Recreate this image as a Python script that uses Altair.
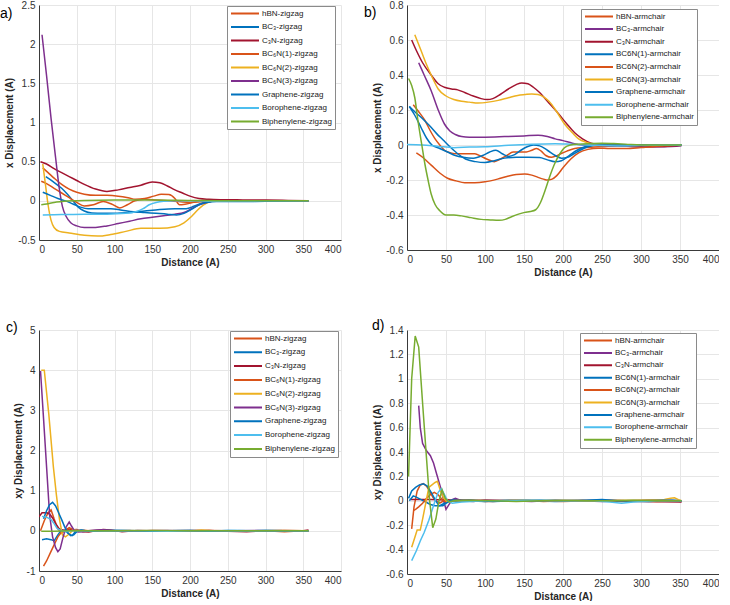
import altair as alt
import pandas as pd

# ---------------------------------------------------------------- series names
ZIG_NAMES = ["hBN-zigzag", "BC₃-zigzag", "C₃N-zigzag", "BC₆N(1)-zigzag", "BC₆N(2)-zigzag",
             "BC₆N(3)-zigzag", "Graphene-zigzag", "Borophene-zigzag", "Biphenylene-zigzag"]
ARM_NAMES = ["hBN-armchair", "BC₃-armchair", "C₃N-armchair", "BC6N(1)-armchair", "BC6N(2)-armchair",
             "BC6N(3)-armchair", "Graphene-armchair", "Borophene-armchair", "Biphenylene-armchair"]

ORANGE, BLUE, DARKRED, YELLOW = "#D95319", "#0072BD", "#A2142F", "#EDB120"
PURPLE, LIGHTBLUE, GREEN = "#7E2F8E", "#4DBEEE", "#77AC30"
ZIG_COLORS = [ORANGE, BLUE, DARKRED, ORANGE, YELLOW, PURPLE, BLUE, LIGHTBLUE, GREEN]
ARM_COLORS = [ORANGE, PURPLE, DARKRED, BLUE, ORANGE, YELLOW, BLUE, LIGHTBLUE, GREEN]

X_TICKS = [0, 50, 100, 150, 200, 250, 300, 350, 400]
A_TICKS = [-0.5, 0, 0.5, 1, 1.5, 2, 2.5]
B_TICKS = [-0.6, -0.4, -0.2, 0, 0.2, 0.4, 0.6, 0.8]
C_TICKS = [-1, 0, 1, 2, 3, 4, 5]
D_TICKS = [-0.6, -0.4, -0.2, 0, 0.2, 0.4, 0.6, 0.8, 1, 1.2, 1.4]

# ---------------------------------------------------------------- a) x displacement, zigzag
A_HBN_X = [5, 12, 20, 30, 40, 50, 60, 75, 90, 105, 118, 128, 140, 152, 162, 172, 180, 186, 195, 210, 230, 260, 300, 357]
A_HBN_Y = [0.42, 0.36, 0.29, 0.21, 0.15, 0.11, 0.085, 0.07, 0.07, 0.06, 0.04, 0.02, 0.03, 0.06, 0.085, 0.08, 0.03, -0.05, -0.04, -0.01, 0.0, 0.0, 0.0, 0.0]
A_BC3_X = [9, 15, 22, 30, 38, 45, 52, 60, 70, 85, 100, 120, 140, 160, 180, 195, 205, 215, 225, 240, 300, 357]
A_BC3_Y = [0.31, 0.27, 0.22, 0.16, 0.08, 0.0, -0.08, -0.13, -0.155, -0.16, -0.16, -0.15, -0.13, -0.11, -0.1, -0.1, -0.07, -0.03, -0.01, 0.0, -0.005, 0.0]
A_C3N_X = [2, 10, 20, 30, 40, 50, 60, 75, 90, 105, 120, 135, 150, 160, 170, 180, 190, 200, 212, 225, 240, 270, 300, 330, 357]
A_C3N_Y = [0.5, 0.47, 0.41, 0.36, 0.31, 0.26, 0.21, 0.15, 0.12, 0.14, 0.17, 0.2, 0.24, 0.23, 0.19, 0.14, 0.1, 0.06, 0.03, 0.02, 0.015, 0.012, 0.01, 0.005, 0.0]
A_BC6N1_X = [3, 10, 20, 30, 40, 50, 60, 72, 85, 96, 107, 117, 127, 140, 155, 170, 185, 200, 215, 240, 300, 357]
A_BC6N1_Y = [0.25, 0.22, 0.16, 0.1, 0.04, -0.02, -0.065, -0.05, -0.01, -0.04, -0.09, -0.05, 0.0, 0.02, 0.01, 0.0, -0.01, -0.02, -0.01, 0.0, 0.0, 0.0]
A_BC6N2_X = [5, 8, 12, 16, 20, 27, 40, 60, 78, 95, 115, 135, 160, 180, 192, 202, 212, 222, 235, 260, 300, 357]
A_BC6N2_Y = [0.47, 0.25, -0.05, -0.25, -0.34, -0.39, -0.41, -0.44, -0.45, -0.43, -0.39, -0.35, -0.35, -0.33, -0.28, -0.2, -0.1, -0.03, 0.0, 0.0, 0.0, 0.0]
A_BC6N3_X = [4, 10, 16, 22, 27, 31, 36, 42, 50, 60, 75, 90, 105, 120, 135, 150, 165, 180, 192, 202, 212, 222, 235, 260, 300, 357]
A_BC6N3_Y = [2.12, 1.6, 1.05, 0.55, 0.15, -0.07, -0.2, -0.28, -0.32, -0.34, -0.34, -0.32, -0.29, -0.26, -0.23, -0.21, -0.19, -0.17, -0.15, -0.1, -0.05, -0.02, 0.0, 0.0, 0.0, 0.0]
A_GRA_X = [5, 15, 25, 35, 45, 55, 65, 80, 95, 110, 125, 140, 155, 170, 182, 192, 202, 212, 222, 235, 260, 300, 357]
A_GRA_Y = [0.11, 0.07, 0.03, 0.0, -0.04, -0.08, -0.1, -0.1, -0.1, -0.12, -0.14, -0.15, -0.16, -0.17, -0.18, -0.16, -0.11, -0.05, -0.02, -0.01, -0.01, -0.005, 0.0]
A_BORO_X = [5, 30, 60, 90, 115, 128, 138, 146, 155, 165, 180, 200, 230, 300, 357]
A_BORO_Y = [-0.18, -0.175, -0.17, -0.17, -0.16, -0.14, -0.1, -0.05, -0.02, -0.005, 0.0, 0.0, -0.005, 0.0, 0.0]
A_BIPH_X = [3, 10, 20, 30, 45, 60, 100, 150, 200, 250, 300, 357]
A_BIPH_Y = [-0.05, -0.04, -0.02, -0.01, 0.0, 0.005, 0.01, 0.01, 0.005, 0.0, 0.0, 0.0]

# ---------------------------------------------------------------- b) x displacement, armchair
B_HBN_X = [8, 15, 23, 30, 36, 42, 48, 56, 65, 75, 87, 95, 102, 112, 120, 128, 136, 145, 153, 160, 166, 172, 178, 185, 190, 197, 205, 215, 228, 245, 270, 300, 330, 352]
B_HBN_Y = [0.23, 0.19, 0.14, 0.08, 0.035, 0.0, -0.03, -0.045, -0.05, -0.05, -0.05, -0.065, -0.08, -0.095, -0.08, -0.06, -0.04, -0.04, -0.04, -0.03, -0.02, -0.035, -0.06, -0.07, -0.065, -0.05, -0.035, -0.02, -0.015, -0.01, -0.005, 0.0, 0.0, 0.0]
B_BC3_X = [15, 22, 31, 40, 48, 55, 62, 70, 80, 100, 125, 150, 168, 180, 190, 200, 212, 225, 240, 270, 300, 330, 352]
B_BC3_Y = [0.47, 0.4, 0.31, 0.2, 0.12, 0.08, 0.06, 0.048, 0.045, 0.045, 0.048, 0.052, 0.056, 0.048, 0.035, 0.025, 0.01, 0.0, -0.002, -0.005, -0.01, -0.01, -0.005]
B_C3N_X = [6, 12, 20, 31, 40, 48, 57, 65, 74, 85, 95, 103, 110, 120, 130, 140, 147, 155, 162, 170, 180, 194, 205, 215, 225, 236, 250, 270, 300, 330, 352]
B_C3N_Y = [0.6, 0.54, 0.47, 0.4, 0.35, 0.33, 0.32, 0.315, 0.3, 0.28, 0.265, 0.26, 0.265, 0.29, 0.32, 0.345, 0.355, 0.35, 0.33, 0.3, 0.25, 0.18, 0.12, 0.07, 0.035, 0.01, 0.0, -0.005, -0.01, -0.008, -0.002]
B_BC6N1_X = [3, 10, 20, 29, 38, 46, 55, 65, 75, 88, 100, 112, 125, 140, 155, 170, 180, 190, 198, 208, 218, 228, 240, 260, 300, 352]
B_BC6N1_Y = [0.22, 0.19, 0.15, 0.11, 0.065, 0.03, -0.01, -0.05, -0.08, -0.095, -0.1, -0.09, -0.075, -0.07, -0.07, -0.072, -0.085, -0.095, -0.09, -0.06, -0.03, -0.01, 0.0, 0.0, 0.0, 0.0]
B_BC6N2_X = [12, 20, 31, 42, 52, 63, 74, 87, 100, 116, 128, 140, 151, 160, 168, 175, 180, 186, 192, 200, 210, 220, 232, 245, 260, 280, 300, 330, 352]
B_BC6N2_Y = [-0.045, -0.07, -0.115, -0.16, -0.19, -0.205, -0.215, -0.215, -0.21, -0.195, -0.18, -0.168, -0.165, -0.172, -0.185, -0.195, -0.2, -0.195, -0.175, -0.13, -0.08, -0.045, -0.025, -0.018, -0.02, -0.02, -0.015, -0.005, 0.0]
B_BC6N3_X = [10, 18, 25, 31, 40, 50, 60, 70, 80, 91, 104, 117, 130, 142, 151, 160, 168, 175, 182, 192, 202, 212, 220, 230, 240, 260, 300, 352]
B_BC6N3_Y = [0.63, 0.54, 0.46, 0.4, 0.32, 0.28, 0.26, 0.25, 0.245, 0.24, 0.245, 0.255, 0.27, 0.283, 0.288, 0.292, 0.288, 0.275, 0.25, 0.19, 0.12, 0.07, 0.035, 0.015, 0.005, 0.0, 0.0, 0.0]
B_GRA_X = [3, 10, 18, 25, 32, 42, 52, 62, 72, 85, 97, 106, 114, 122, 130, 138, 146, 154, 162, 170, 180, 190, 198, 206, 214, 222, 232, 245, 270, 300, 352]
B_GRA_Y = [0.22, 0.17, 0.1, 0.04, 0.0, -0.02, -0.04, -0.06, -0.07, -0.075, -0.06, -0.04, -0.03, -0.05, -0.065, -0.055, -0.03, -0.01, 0.0, -0.005, -0.03, -0.06, -0.075, -0.07, -0.05, -0.03, -0.01, 0.0, 0.0, 0.0, 0.0]
B_BORO_X = [0, 20, 40, 60, 80, 100, 130, 160, 190, 210, 240, 270, 300, 330, 352]
B_BORO_Y = [0.003, 0.0, -0.008, -0.015, -0.012, -0.01, -0.002, 0.004, 0.007, 0.004, -0.002, -0.005, -0.003, 0.0, 0.0]
B_BIPH_X = [2, 6, 10, 14, 19, 23, 27, 31, 36, 42, 50, 60, 70, 82, 95, 107, 118, 126, 134, 143, 151, 158, 165, 171, 177, 183, 189, 196, 202, 210, 220, 235, 250, 265, 280, 300, 330, 352]
B_BIPH_Y = [0.38, 0.34, 0.27, 0.14, 0.0, -0.11, -0.2, -0.28, -0.34, -0.375, -0.4, -0.4, -0.405, -0.415, -0.425, -0.428, -0.43, -0.425, -0.41, -0.395, -0.385, -0.38, -0.37, -0.33, -0.26, -0.18, -0.11, -0.05, -0.015, 0.0, 0.005, 0.008, 0.01, 0.008, 0.005, 0.0, 0.0, 0.0]

# ---------------------------------------------------------------- c) xy displacement, zigzag
C_HBN_X = [2, 7, 12, 16, 20, 25, 30, 35, 40, 45, 50, 60, 75, 90, 110, 130, 150, 175, 200, 225, 250, 275, 300, 325, 350, 357]
C_HBN_Y = [0.0, 0.25, 0.45, 0.52, 0.3, 0.05, -0.05, 0.0, 0.05, 0.02, 0.0, 0.01, -0.01, 0.01, 0.0, -0.01, 0.01, 0.0, -0.01, 0.01, 0.0, -0.01, 0.0, -0.02, 0.0, 0.0]
C_BC3_X = [4, 10, 16, 20, 25, 30, 35, 40, 44, 48, 55, 65, 80, 100, 125, 150, 175, 200, 225, 250, 275, 300, 325, 357]
C_BC3_Y = [-0.22, -0.2, -0.22, -0.25, -0.1, 0.03, 0.0, -0.08, -0.12, -0.02, 0.02, -0.01, 0.0, 0.01, 0.0, -0.01, 0.0, 0.01, 0.0, -0.01, 0.0, 0.01, 0.0, 0.0]
C_C3N_X = [0, 4, 10, 14, 18, 22, 26, 30, 36, 42, 50, 58, 66, 75, 85, 95, 110, 130, 150, 175, 200, 225, 250, 275, 300, 325, 350, 357]
C_C3N_Y = [0.35, 0.45, 0.45, 0.42, 0.32, 0.18, 0.07, 0.02, 0.0, 0.02, 0.03, -0.02, -0.03, 0.0, 0.03, 0.02, -0.02, 0.01, 0.0, -0.01, 0.0, 0.01, -0.01, -0.02, 0.0, 0.01, 0.0, 0.02]
C_BC6N1_X = [6, 10, 15, 20, 25, 30, 35, 40, 45, 50, 60, 75, 95, 120, 150, 180, 210, 240, 270, 300, 330, 357]
C_BC6N1_Y = [-0.88, -0.75, -0.55, -0.35, -0.15, -0.03, 0.02, 0.08, 0.03, 0.0, 0.01, -0.01, 0.0, 0.01, -0.01, 0.0, 0.01, -0.01, 0.0, -0.01, 0.0, 0.0]
C_BC6N2_X = [3, 7, 13, 19, 23, 27, 31, 35, 40, 45, 52, 60, 80, 110, 140, 170, 200, 215, 230, 260, 290, 320, 357]
C_BC6N2_Y = [4.0, 4.0, 2.9, 1.6, 0.9, 0.3, -0.1, -0.15, -0.08, 0.02, 0.01, 0.0, 0.01, -0.01, 0.0, 0.0, -0.01, 0.02, 0.0, -0.01, 0.0, 0.01, 0.0]
C_BC6N3_X = [2, 6, 10, 14, 18, 22, 25, 28, 32, 36, 40, 43, 47, 52, 58, 65, 75, 85, 100, 120, 140, 170, 200, 230, 260, 290, 320, 357]
C_BC6N3_Y = [3.98, 2.8, 1.6, 0.4, -0.15, -0.42, -0.52, -0.45, -0.15, 0.1, 0.22, 0.12, 0.0, -0.03, -0.02, 0.0, 0.02, 0.03, 0.0, -0.01, 0.0, 0.01, 0.0, -0.01, 0.0, 0.01, -0.01, 0.0]
C_GRA_X = [6, 10, 14, 18, 22, 26, 30, 34, 38, 42, 46, 50, 56, 62, 70, 85, 100, 125, 150, 175, 200, 225, 250, 275, 300, 325, 357]
C_GRA_Y = [0.3, 0.5, 0.65, 0.71, 0.62, 0.45, 0.28, 0.1, -0.05, -0.12, -0.1, -0.02, 0.02, 0.0, -0.01, 0.0, 0.01, 0.0, -0.01, 0.0, 0.01, -0.01, 0.01, 0.0, 0.01, 0.0, 0.0]
C_BORO_X = [4, 10, 16, 20, 24, 30, 36, 42, 50, 60, 80, 110, 140, 170, 200, 230, 260, 290, 320, 357]
C_BORO_Y = [0.36, 0.34, 0.28, 0.18, 0.06, 0.0, -0.02, 0.0, 0.01, 0.0, 0.0, 0.01, 0.0, -0.01, 0.0, 0.0, 0.01, 0.0, 0.0, 0.0]
C_BIPH_X = [3, 20, 40, 60, 100, 150, 200, 250, 300, 357]
C_BIPH_Y = [-0.01, -0.01, 0.0, 0.0, 0.0, 0.01, 0.0, 0.0, 0.0, 0.0]

# ---------------------------------------------------------------- d) xy displacement, armchair
D_HBN_X = [6, 9, 13, 17, 21, 25, 29, 33, 37, 42, 47, 52, 58, 65, 80, 100, 125, 150, 175, 200, 225, 250, 275, 300, 325, 352]
D_HBN_Y = [-0.23, -0.05, 0.08, 0.13, 0.14, 0.12, 0.08, 0.03, 0.0, -0.02, 0.0, 0.01, 0.0, 0.0, 0.005, -0.005, 0.0, 0.005, -0.005, 0.0, 0.005, 0.0, -0.005, 0.0, 0.005, 0.0]
D_BC3_X = [15, 17, 20, 25, 30, 34, 38, 43, 47, 50, 54, 58, 62, 70, 85, 100, 130, 160, 190, 220, 250, 280, 310, 340, 352]
D_BC3_Y = [0.78, 0.6, 0.47, 0.41, 0.37, 0.31, 0.22, 0.11, 0.0, -0.07, -0.03, 0.01, 0.02, 0.0, -0.005, 0.005, 0.0, -0.005, 0.005, 0.0, -0.005, 0.0, 0.005, 0.0, -0.005]
D_C3N_X = [5, 30, 60, 100, 150, 200, 250, 300, 352]
D_C3N_Y = [0.01, 0.01, 0.005, 0.005, 0.0, 0.0, 0.0, -0.005, -0.01]
D_BC6N1_X = [3, 8, 12, 18, 24, 30, 36, 42, 48, 54, 60, 75, 100, 130, 160, 190, 220, 250, 280, 310, 340, 352]
D_BC6N1_Y = [0.0, 0.04, 0.03, 0.01, -0.01, -0.03, -0.04, -0.04, -0.02, 0.0, 0.01, 0.0, -0.005, 0.005, 0.0, -0.005, 0.0, 0.005, 0.0, -0.005, 0.005, 0.0]
D_BC6N2_X = [8, 11, 15, 20, 25, 30, 35, 40, 45, 50, 56, 65, 80, 110, 140, 170, 200, 230, 260, 290, 320, 352]
D_BC6N2_Y = [-0.08, -0.07, -0.05, -0.02, 0.02, 0.05, 0.07, 0.05, 0.01, -0.01, 0.0, 0.005, 0.0, -0.005, 0.005, 0.0, -0.005, 0.0, 0.005, 0.0, -0.005, 0.0]
D_BC6N3_X = [6, 10, 13, 17, 20, 24, 28, 32, 36, 39, 43, 47, 52, 58, 70, 100, 150, 200, 250, 300, 330, 338, 343, 348, 352]
D_BC6N3_Y = [-0.38, -0.3, -0.24, -0.24, -0.15, -0.02, 0.11, 0.13, 0.15, 0.16, 0.08, 0.02, -0.01, 0.0, 0.0, 0.0, 0.005, 0.0, 0.0, 0.005, 0.01, 0.02, 0.025, 0.01, 0.0]
D_GRA_X = [2, 6, 11, 16, 21, 26, 31, 36, 41, 46, 50, 55, 62, 80, 110, 140, 170, 200, 230, 250, 270, 300, 330, 352]
D_GRA_Y = [0.02, 0.08, 0.11, 0.13, 0.14, 0.12, 0.07, 0.01, -0.04, -0.04, -0.02, 0.0, 0.0, 0.005, -0.005, 0.0, 0.005, 0.0, 0.005, 0.01, 0.0, 0.0, 0.005, 0.0]
D_BORO_X = [6, 12, 17, 22, 28, 32, 36, 40, 44, 48, 52, 58, 70, 100, 150, 200, 240, 260, 275, 290, 320, 352]
D_BORO_Y = [-0.49, -0.41, -0.33, -0.26, -0.16, -0.08, 0.0, 0.07, 0.1, 0.05, 0.0, -0.02, -0.01, 0.0, 0.005, 0.0, 0.0, -0.01, -0.02, -0.01, 0.0, 0.0]
D_BIPH_X = [2, 6, 10.5, 15, 20, 25, 29, 33, 37, 41, 45, 49, 54, 60, 80, 110, 140, 170, 200, 230, 260, 290, 320, 352]
D_BIPH_Y = [0.2, 1.0, 1.35, 1.26, 0.8, 0.35, 0.0, -0.22, -0.15, 0.0, 0.09, 0.02, -0.01, 0.0, 0.005, 0.0, -0.005, 0.0, 0.005, 0.0, 0.0, 0.005, 0.0, 0.0]

FONT = "Liberation Sans"
LABEL_EXPR = "replace(format(datum.value, '~g'), '\u2212', '-')"


def make_frame(names, series):
    rows = []
    for name, (xs, ys) in zip(names, series):
        for k, (xv, yv) in enumerate(zip(xs, ys)):
            rows.append({"series": name, "dist": xv, "disp": yv, "k": k})
    return pd.DataFrame(rows)


def panel(tag, names, colors, series, y_dom, y_ticks, y_title, interp,
          w, h, leg_x, leg_y, row_pad, tag_x, tag_y):
    df = make_frame(names, series)
    lines = alt.Chart(df).mark_line(strokeWidth=1.5, interpolate=interp, clip=True).encode(
        x=alt.X("dist:Q", scale=alt.Scale(domain=[0, 400], nice=False, zero=False),
                axis=alt.Axis(values=X_TICKS, title="Distance (A)")),
        y=alt.Y("disp:Q", scale=alt.Scale(domain=y_dom, nice=False, zero=False),
                axis=alt.Axis(values=y_ticks, title=y_title, labelExpr=LABEL_EXPR)),
        color=alt.Color("series:N", scale=alt.Scale(domain=names, range=colors),
                        legend=alt.Legend(title=None, orient="none", legendX=leg_x, legendY=leg_y,
                                          direction="vertical", symbolType="stroke",
                                          symbolSize=784, symbolStrokeWidth=2, clipHeight=9,
                                          rowPadding=row_pad, labelFont=FONT, labelFontSize=8,
                                          labelColor="#1a1a1a", labelOffset=2, labelLimit=300,
                                          padding=3, fillColor="white", strokeColor="#8a8a8a")),
        order=alt.Order("k:Q"),
    )
    label = alt.Chart(pd.DataFrame({"tag": [tag]})).mark_text(
        align="left", baseline="middle", fontSize=14, font=FONT, color="black"
    ).encode(text="tag:N", x=alt.value(tag_x), y=alt.value(tag_y))
    return alt.layer(lines, label).properties(width=w, height=h)


pa = panel("a)", ZIG_NAMES, ZIG_COLORS,
           [(A_HBN_X, A_HBN_Y), (A_BC3_X, A_BC3_Y), (A_C3N_X, A_C3N_Y), (A_BC6N1_X, A_BC6N1_Y),
            (A_BC6N2_X, A_BC6N2_Y), (A_BC6N3_X, A_BC6N3_Y), (A_GRA_X, A_GRA_Y),
            (A_BORO_X, A_BORO_Y), (A_BIPH_X, A_BIPH_Y)],
           [-0.5, 2.5], A_TICKS, "x Displacement (A)", "monotone",
           302, 235, 188, 1, 4.5, -39, 9)
pb = panel("b)", ARM_NAMES, ARM_COLORS,
           [(B_HBN_X, B_HBN_Y), (B_BC3_X, B_BC3_Y), (B_C3N_X, B_C3N_Y), (B_BC6N1_X, B_BC6N1_Y),
            (B_BC6N2_X, B_BC6N2_Y), (B_BC6N3_X, B_BC6N3_Y), (B_GRA_X, B_GRA_Y),
            (B_BORO_X, B_BORO_Y), (B_BIPH_X, B_BIPH_Y)],
           [-0.6, 0.8], B_TICKS, "x Displacement (A)", "monotone",
           312, 245, 174, 4, 3.6, -43, 8)
pc = panel("c)", ZIG_NAMES, ZIG_COLORS,
           [(C_HBN_X, C_HBN_Y), (C_BC3_X, C_BC3_Y), (C_C3N_X, C_C3N_Y), (C_BC6N1_X, C_BC6N1_Y),
            (C_BC6N2_X, C_BC6N2_Y), (C_BC6N3_X, C_BC6N3_Y), (C_GRA_X, C_GRA_Y),
            (C_BORO_X, C_BORO_Y), (C_BIPH_X, C_BIPH_Y)],
           [-1, 5], C_TICKS, "xy Displacement (A)", "linear",
           302, 241, 191, 1, 4.8, -33, -2)
pd_ = panel("d)", ARM_NAMES, ARM_COLORS,
            [(D_HBN_X, D_HBN_Y), (D_BC3_X, D_BC3_Y), (D_C3N_X, D_C3N_Y), (D_BC6N1_X, D_BC6N1_Y),
             (D_BC6N2_X, D_BC6N2_Y), (D_BC6N3_X, D_BC6N3_Y), (D_GRA_X, D_GRA_Y),
             (D_BORO_X, D_BORO_Y), (D_BIPH_X, D_BIPH_Y)],
            [-0.6, 1.4], D_TICKS, "xy Displacement (A)", "linear",
            312, 244, 173, 3, 3.4, -35, -4)

chart = (
    alt.concat(pa, pb, pc, pd_, columns=2, spacing={"row": 80, "column": 66}, bounds="flush")
    .resolve_scale(color="independent")
    .resolve_legend(color="independent")
    .properties(padding={"left": 0, "top": 0, "right": 0, "bottom": 0}, background="white")
    .configure_view(stroke=None)
    .configure_axis(grid=True, gridColor="#e6e6e6", gridWidth=1, domainColor="#3a3a3a",
                    domainWidth=1, ticks=False, labelFont=FONT, labelFontSize=10,
                    labelColor="#333333", labelPadding=4, titleFont=FONT, titleFontSize=10,
                    titleFontWeight="bold", titleColor="#262626", titlePadding=3)
)

chart.save("out.html", embed_options={"renderer": "svg", "actions": False})
